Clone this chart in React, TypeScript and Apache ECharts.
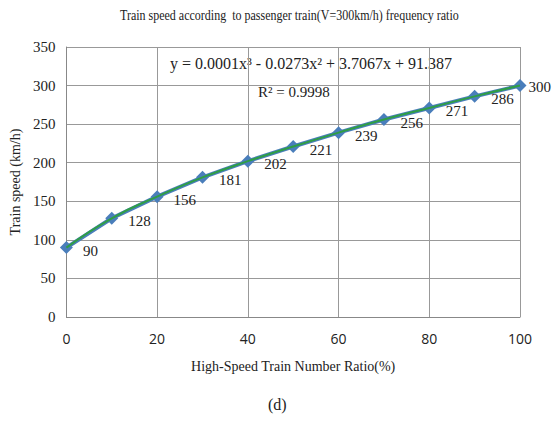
import React, { useEffect, useRef } from "react";
import * as echarts from "echarts";

const ratios = [0, 10, 20, 30, 40, 50, 60, 70, 80, 90, 100];
const speeds = [90, 128, 156, 181, 202, 221, 239, 256, 271, 286, 300];
const titleText = "Train speed according  to passenger train(V=300km/h) frequency ratio";
const equationText = "y = 0.0001x³ - 0.0273x² + 3.7067x + 91.387";
const r2Text = "R² = 0.9998";
const xName = "High-Speed Train Number Ratio(%)";
const yName = "Train speed (km/h)";
const caption = "(d)";

const FONT = "'Liberation Serif', 'Times New Roman', serif";
const SANS = "'Open Sans', 'Liberation Sans', sans-serif";

export default function App() {
  const ref = useRef<HTMLDivElement>(null);
  useEffect(() => {
    document.body.style.margin = "0";
    if (!ref.current) return;
    const chart = echarts.init(ref.current, null, { renderer: "svg" });
    const pts = ratios.map((r, i) => {
      if (i === ratios.length - 1) {
        return { value: [r, speeds[i]], label: { distance: 2, offset: [0, 1] } };
      }
      return { value: [r, speeds[i]] };
    });
    const linePts = ratios.map((r, i) => [r, speeds[i]]);
    chart.setOption({
      animation: false,
      backgroundColor: "#ffffff",
      textStyle: { fontFamily: FONT },
      grid: { left: 64, right: 33, top: 47, bottom: 105 },
      xAxis: {
        type: "value",
        min: 0,
        max: 100,
        interval: 20,
        name: xName,
        nameLocation: "middle",
        nameGap: 42,
        nameTextStyle: { fontFamily: FONT, fontSize: 14, color: "#222" },
        axisLine: { show: true, lineStyle: { color: "#888", width: 1 } },
        axisTick: { show: false },
        axisLabel: { fontFamily: SANS, fontSize: 14, color: "#222", margin: 14 },
        splitLine: { show: true, lineStyle: { color: "#999", width: 1 } },
      },
      yAxis: {
        type: "value",
        min: 0,
        max: 350,
        interval: 50,
        name: yName,
        nameLocation: "middle",
        nameGap: 36,
        nameTextStyle: { fontFamily: FONT, fontSize: 14, color: "#222" },
        axisLine: { show: true, lineStyle: { color: "#888", width: 1 } },
        axisTick: { show: false },
        axisLabel: { fontFamily: FONT, fontSize: 15, color: "#222", margin: 11 },
        splitLine: { show: true, lineStyle: { color: "#999", width: 1 } },
      },
      series: [
        {
          type: "line",
          data: pts,
          symbol: "diamond",
          symbolSize: 13,
          lineStyle: { color: "#4a7ebb", width: 4 },
          itemStyle: { color: "#4a7ebb" },
          label: {
            show: true,
            position: "right",
            distance: 10,
            offset: [0, 3],
            fontFamily: FONT,
            fontSize: 15,
            color: "#222",
            formatter: (p: any) => String(p.value[1]),
          },
          z: 2,
        },
        {
          type: "line",
          data: linePts,
          smooth: true,
          symbol: "none",
          lineStyle: { color: "#2f9e46", width: 2 },
          silent: true,
          z: 3,
        },
      ],
      graphic: [
        {
          type: "text",
          x: 120,
          y: 8,
          scaleX: 0.8,
          style: { text: titleText, fontFamily: FONT, fontSize: 15, fill: "#222" },
        },
        {
          type: "text",
          x: 170,
          y: 55,
          style: { text: equationText, fontFamily: FONT, fontSize: 16, fill: "#222" },
        },
        {
          type: "text",
          x: 258,
          y: 84,
          style: { text: r2Text, fontFamily: FONT, fontSize: 15, fill: "#222" },
        },
        {
          type: "text",
          x: 268,
          y: 396,
          style: { text: caption, fontFamily: FONT, fontSize: 16, fill: "#222" },
        },
      ],
    });
    return () => chart.dispose();
  }, []);
  return <div ref={ref} style={{ width: 553, height: 422 }} />;
}
